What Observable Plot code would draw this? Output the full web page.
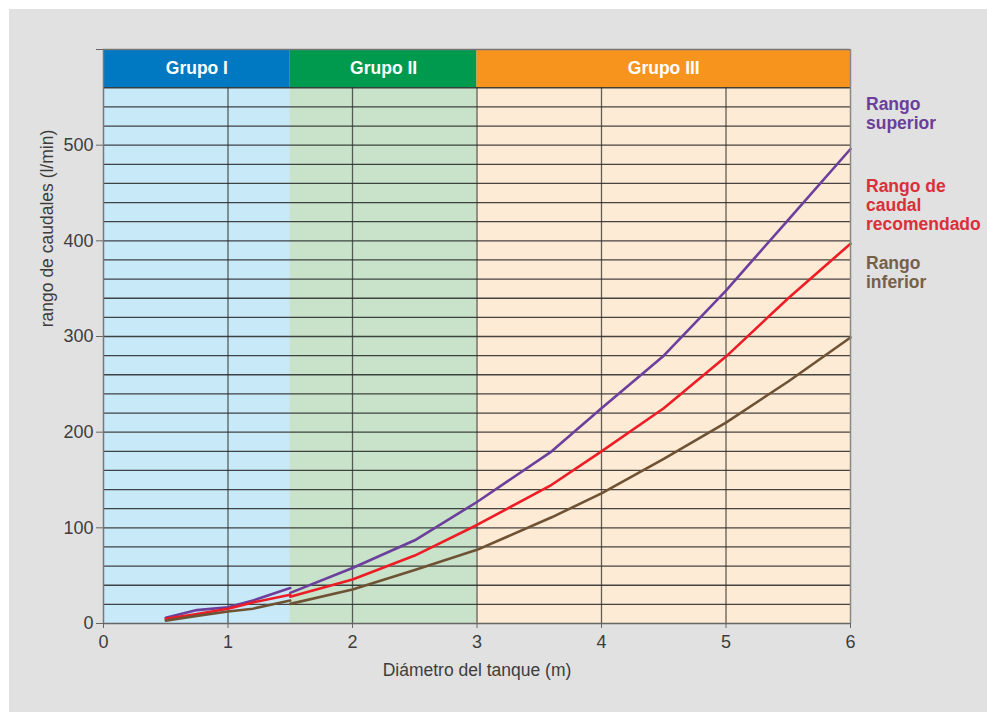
<!DOCTYPE html>
<html>
<head>
<meta charset="utf-8">
<script src="https://cdn.jsdelivr.net/npm/d3@7"></script>
<script src="https://cdn.jsdelivr.net/npm/@observablehq/plot@0.6"></script>
<style>
  html, body { margin: 0; padding: 0; background: #ffffff; overflow: hidden; }
  #wrap { position: absolute; left: 0; top: 0; width: 987px; height: 712px; }
  #panel { position: absolute; left: 9px; top: 9px; right: 0; bottom: 0; background: #e1e1e1; }
  #chart { position: absolute; left: 0; top: 0; }
  .lg { position: absolute; left: 866px; font-family: 'Liberation Sans', Arial, sans-serif; font-weight: bold; font-size: 17.5px; line-height: 19px; }
</style>
</head>
<body>
<div id="wrap">
  <div id="panel"></div>
  <div id="chart"></div>
  <div class="lg" id="lg0" style="top:95px"></div>
  <div class="lg" id="lg1" style="top:177px"></div>
  <div class="lg" id="lg2" style="top:254px"></div>
</div>
<script>
// ---- data ----
const groupNames = ["Grupo I", "Grupo II", "Grupo III"];
const groupStart = [0, 1.5, 3];
const groupEnd = [1.5, 3, 6];
const headerColors = ["#0079c2", "#009a4e", "#f7941e"];
const bandColors = ["#c8e9f8", "#c8e3c9", "#fdebd5"];
const gridTop = 560;
const headerTop = 600;

const xTicks = [0, 1, 2, 3, 4, 5, 6];
const xGrid = [1, 2, 3, 4, 5];
const yTicks = [0, 100, 200, 300, 400, 500, 600];
const yTickLabels = ["0", "100", "200", "300", "400", "500", ""];
const yGrid = [20, 40, 60, 80, 100, 120, 140, 160, 180, 200, 220, 240, 260, 280, 300,
               320, 340, 360, 380, 400, 420, 440, 460, 480, 500, 520, 540, 560];

const seriesNames = ["Rango superior", "Rango de caudal recomendado", "Rango inferior"];
const seriesLabelLines = [["Rango", "superior"], ["Rango de", "caudal", "recomendado"], ["Rango", "inferior"]];
const seriesColors = ["#6c3f9c", "#ee1c25", "#6f5234"];
const labelColors = ["#6a3f9a", "#d9303a", "#75604a"];

// segment in Grupo I
const xSeg1 = [0.5, 0.75, 1.0, 1.2, 1.5];
// segment in Grupo II + III
const xSeg2 = [1.5, 2, 2.5, 3, 3.6, 4, 4.5, 5, 5.5, 6];

const superior1 = [6, 14, 17, 24, 37];
const superior2 = [32, 58, 87, 127, 180, 225, 280, 348, 422, 496];
const recomendado1 = [5, 10, 15.5, 22, 30];
const recomendado2 = [28, 46, 71, 103, 145, 180, 225, 279, 340, 397];
const inferior1 = [3, 8, 12.5, 15.5, 24];
const inferior2 = [20.5, 35.5, 56, 77, 111, 136, 172, 210, 253, 299];

const xTitle = "Diámetro del tanque (m)";
const yTitle = "rango de caudales (l/min)";

// ---- tables ----
const groups = groupNames.map((name, i) => ({
  name, x1: groupStart[i], x2: groupEnd[i], xm: (groupStart[i] + groupEnd[i]) / 2,
  header: headerColors[i], band: bandColors[i]
}));

const seriesSegs = [[superior1, superior2], [recomendado1, recomendado2], [inferior1, inferior2]];
const rows = [];
seriesSegs.forEach((segs, si) => {
  segs.forEach((vals, gi) => {
    const xs = gi === 0 ? xSeg1 : xSeg2;
    xs.forEach((x, k) => rows.push({series: seriesNames[si], seg: seriesNames[si] + gi, x, y: vals[k]}));
  });
});

const font = "'Liberation Sans', Arial, Helvetica, sans-serif";
const textColor = "#3d3d3d";

const chart = Plot.plot({
  width: 987,
  height: 712,
  marginLeft: 103,
  marginRight: 137,
  marginTop: 49,
  marginBottom: 89,
  x: {domain: [0, 6]},
  y: {domain: [0, 600]},
  color: {domain: seriesNames, range: seriesColors},
  style: {fontFamily: font, fontSize: "17px", background: "transparent", color: textColor, overflow: "visible"},
  marks: [
    // light group bands
    Plot.rectY(groups, {x1: "x1", x2: "x2", y1: 0, y2: gridTop, fill: "band", inset: 0}),
    // header bands
    Plot.rectY(groups, {x1: "x1", x2: "x2", y1: gridTop, y2: headerTop, fill: "header", inset: 0}),
    // horizontal grid
    Plot.ruleY(yGrid, {stroke: "#262626", strokeOpacity: 0.85, strokeWidth: 1.3}),
    // vertical grid
    Plot.ruleX(xGrid, {y1: 0, y2: gridTop, stroke: "#2e2e2e", strokeOpacity: 0.75, strokeWidth: 1.3}),
    // data lines
    Plot.line(rows, {x: "x", y: "y", z: "seg", stroke: "series", strokeWidth: 2.6, strokeLinejoin: "round"}),
    // header labels
    Plot.text(groups, {x: "xm", y: (gridTop + headerTop) / 2, text: "name", fill: "white", fontWeight: "bold", fontSize: 17.5}),
    // frame lines
    Plot.ruleY([0], {stroke: "#666", strokeWidth: 1.5}),
    Plot.ruleY([headerTop], {stroke: "#777", strokeWidth: 1.5}),
    Plot.ruleX([0], {stroke: "#777", strokeWidth: 1.5}),
    Plot.ruleX([6], {stroke: "#888", strokeWidth: 1.5}),
    // axes
    Plot.axisY({ticks: yTicks, tickSize: 7, tickPadding: 3, tickFormat: d => yTickLabels[yTicks.indexOf(d)], stroke: "#666", fill: textColor, fontSize: 18, label: null}),
    Plot.axisX({ticks: xTicks, tickSize: 5, tickPadding: 7, tickFormat: d => String(d), stroke: "#666", fill: textColor, fontSize: 18, label: null}),
    // axis titles
    Plot.text([yTitle], {frameAnchor: "top-left", dx: -56, dy: 179, rotate: -90, textAnchor: "middle", lineAnchor: "middle", fill: textColor, fontSize: 17.5}),
    Plot.text([xTitle], {frameAnchor: "bottom", dy: 47, textAnchor: "middle", lineAnchor: "middle", fill: textColor, fontSize: 17.5})
  ]
});
document.getElementById("chart").appendChild(chart);

seriesLabelLines.forEach((lines, i) => {
  const el = document.getElementById("lg" + i);
  el.style.color = labelColors[i];
  el.innerHTML = lines.join("<br>");
});
</script>
</body>
</html>
